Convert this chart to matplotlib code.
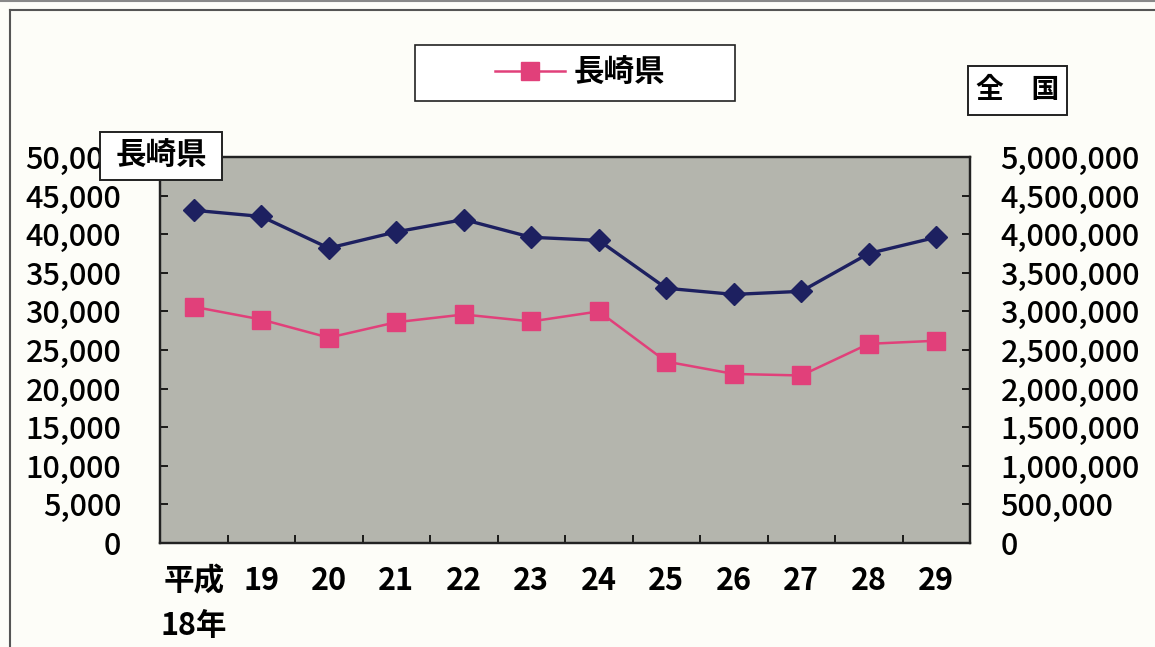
"""
長崎県 / 全国 の推移（平成18年〜29年）
Two-axis line chart: 長崎県 on the left axis, 全国 on the right axis.
"""

import matplotlib
matplotlib.use('Agg')
import matplotlib.pyplot as plt
from matplotlib.patches import Rectangle
from matplotlib.lines import Line2D
from matplotlib.ticker import FuncFormatter, MultipleLocator

plt.rcParams['font.family'] = ['Noto Sans CJK JP', 'DejaVu Sans']

# Data
years = ['平成\n18年', '19', '20', '21', '22', '23', '24', '25', '26', '27', '28', '29']
nagasaki = [30600, 28950, 26600, 28600, 29600, 28700, 30000, 23500, 21900, 21700, 25800, 26200]
zenkoku = [4310000, 4230000, 3820000, 4030000, 4190000, 3960000, 3920000,
           3300000, 3220000, 3260000, 3750000, 3960000]

PINK = '#e1407a'
NAVY = '#1d2060'
PLOT_BG = '#b4b5ad'
PAPER = '#fdfdf8'

W, H = 1155, 647
FS = 22


def fx(px):
    return px / W


def fy(py):
    return 1 - py / H


def box(fig, x0, y0, x1, y1, lw=1.4):
    fig.add_artist(Rectangle((fx(x0), fy(y1)), fx(x1) - fx(x0), fy(y0) - fy(y1),
                             transform=fig.transFigure, facecolor='white',
                             edgecolor='#222222', linewidth=lw, zorder=5))


fig = plt.figure(figsize=(W / 100, H / 100), dpi=100, facecolor=PAPER)
ax = fig.add_axes([fx(160), fy(543), fx(970) - fx(160), fy(157) - fy(543)])
ax2 = ax.twinx()

x = list(range(len(years)))
ax.set_facecolor(PLOT_BG)
line_n, = ax.plot(x, nagasaki, color=PINK, marker='s', ms=13, lw=1.8,
                  markeredgecolor=PINK, label='長崎県', zorder=3)
ax2.plot(x, zenkoku, color=NAVY, marker='D', ms=11, lw=2.4,
         markeredgecolor=NAVY, label='全国', zorder=3)

ax.set_xlim(-0.5, len(years) - 0.5)
ax.set_ylim(0, 50000)
ax2.set_ylim(0, 5000000)

ax.yaxis.set_major_locator(MultipleLocator(5000))
ax2.yaxis.set_major_locator(MultipleLocator(500000))
comma = FuncFormatter(lambda v, p: f'{int(v):,}')
ax.yaxis.set_major_formatter(comma)
ax2.yaxis.set_major_formatter(comma)

ax.set_xticks(x)
ax.set_xticklabels(years, fontsize=FS, fontweight='bold', linespacing=1.5)
ax.set_xticks([i + 0.5 for i in x[:-1]], minor=True)
ax.tick_params(axis='x', which='major', length=0, pad=16)
ax.tick_params(axis='x', which='minor', direction='in', length=6, width=1.2)
ax.tick_params(axis='y', direction='in', length=6, width=1.2, labelsize=FS, pad=28)
ax2.tick_params(axis='y', direction='in', length=6, width=1.2, labelsize=FS, pad=22)
for lab in ax.get_yticklabels() + ax2.get_yticklabels():
    lab.set_fontweight('medium')

for a in (ax, ax2):
    for s in a.spines.values():
        s.set_linewidth(1.6)
        s.set_color('#222222')

# outer frame of the scanned chart
fig.add_artist(Line2D([fx(10), 1], [fy(10), fy(10)], transform=fig.transFigure,
                      color='#555555', lw=1.5))
fig.add_artist(Line2D([fx(10), fx(10)], [fy(10), 0], transform=fig.transFigure,
                      color='#555555', lw=1.5))
fig.add_artist(Line2D([0, 1], [fy(1), fy(1)], transform=fig.transFigure,
                      color='#888888', lw=1.5))

# legend box (only 長崎県 is shown)
box(fig, 415, 45, 735, 101, lw=1.2)
fig.legend(handles=[line_n], loc='center', bbox_to_anchor=(fx(580), fy(73)),
           frameon=False, prop={'weight': 'bold', 'size': FS},
           handlelength=2.3, handletextpad=0.3).set_zorder(6)

# axis name boxes
box(fig, 100, 132, 222, 180)
fig.text(fx(161), fy(156), '長崎県', fontsize=FS, fontweight='bold',
         ha='center', va='center', zorder=6)
box(fig, 968, 66, 1067, 115)
fig.text(fx(1018), fy(90), '全\u3000国', fontsize=20, fontweight='bold',
         ha='center', va='center', zorder=6)

fig.savefig('out.png', dpi=100, facecolor=PAPER)
